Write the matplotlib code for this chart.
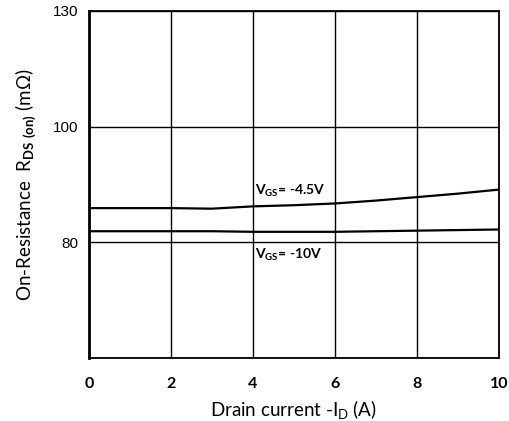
import numpy as np
import matplotlib
matplotlib.use("Agg")
import matplotlib.pyplot as plt

current = [0, 1, 2, 3, 4, 5, 6, 7, 8, 9, 10]
rds_45v = [85.9, 85.9, 85.9, 85.8, 86.2, 86.4, 86.7, 87.2, 87.8, 88.4, 89.1]
rds_10v = [81.9, 81.9, 81.9, 81.9, 81.8, 81.8, 81.8, 81.9, 82.0, 82.1, 82.2]
x_ticks = [0, 2, 4, 6, 8, 10]
y_grid = [60, 80, 100, 130]
y_labels = ["", "80", "100", "130"]

plt.rcParams['mathtext.fontset'] = 'custom'
plt.rcParams['mathtext.rm'] = 'Lato'
plt.rcParams['mathtext.bf'] = 'Lato:bold'

# datasheet grid is evenly spaced even though the labels are not
pos = [0, 1, 2, 3]
def fwd(y):
    return np.interp(y, y_grid, pos)
def inv(p):
    return np.interp(p, pos, y_grid)

fig = plt.figure(figsize=(5.1, 4.21), dpi=100)
ax = fig.add_axes([0.1745, 0.150, 0.8035, 0.824])
ax.set_yscale('function', functions=(fwd, inv))

ax.plot(current, rds_45v, color='black', lw=1.6)
ax.plot(current, rds_10v, color='black', lw=1.6)

ax.set_xlim(0, 10)
ax.set_ylim(60, 130)
ax.set_xticks(x_ticks)
ax.set_xticklabels([str(t) for t in x_ticks], fontfamily='Lato', fontweight='bold', fontsize=11.5)
ax.set_yticks(y_grid)
ax.set_yticklabels(y_labels, fontfamily='Liberation Sans', fontsize=11)
ax.tick_params(length=0, pad=14, axis='x')
ax.tick_params(length=0, pad=8, axis='y')
ax.grid(True, color='black', lw=1.0)
for s in ax.spines.values():
    s.set_linewidth(1.3)
ax.spines['left'].set_linewidth(2.0)

ax.text(4.05, 88.3, r"V$_{\mathbf{GS}}$= -4.5V", fontfamily='Lato', fontweight='bold', fontsize=10)
ax.text(4.05, 77.2, r"V$_{\mathbf{GS}}$= -10V", fontfamily='Lato', fontweight='bold', fontsize=10)

ax.set_xlabel(r"Drain current -I$_\mathrm{D}$ (A)", fontfamily='Lato', fontsize=13.5, labelpad=5)
ax.set_ylabel(r"On-Resistance  R$_{\mathbf{DS\ (on)}}$ (mΩ)", fontfamily='Lato', fontsize=13.5, labelpad=10)

fig.savefig("out.png", dpi=100)
